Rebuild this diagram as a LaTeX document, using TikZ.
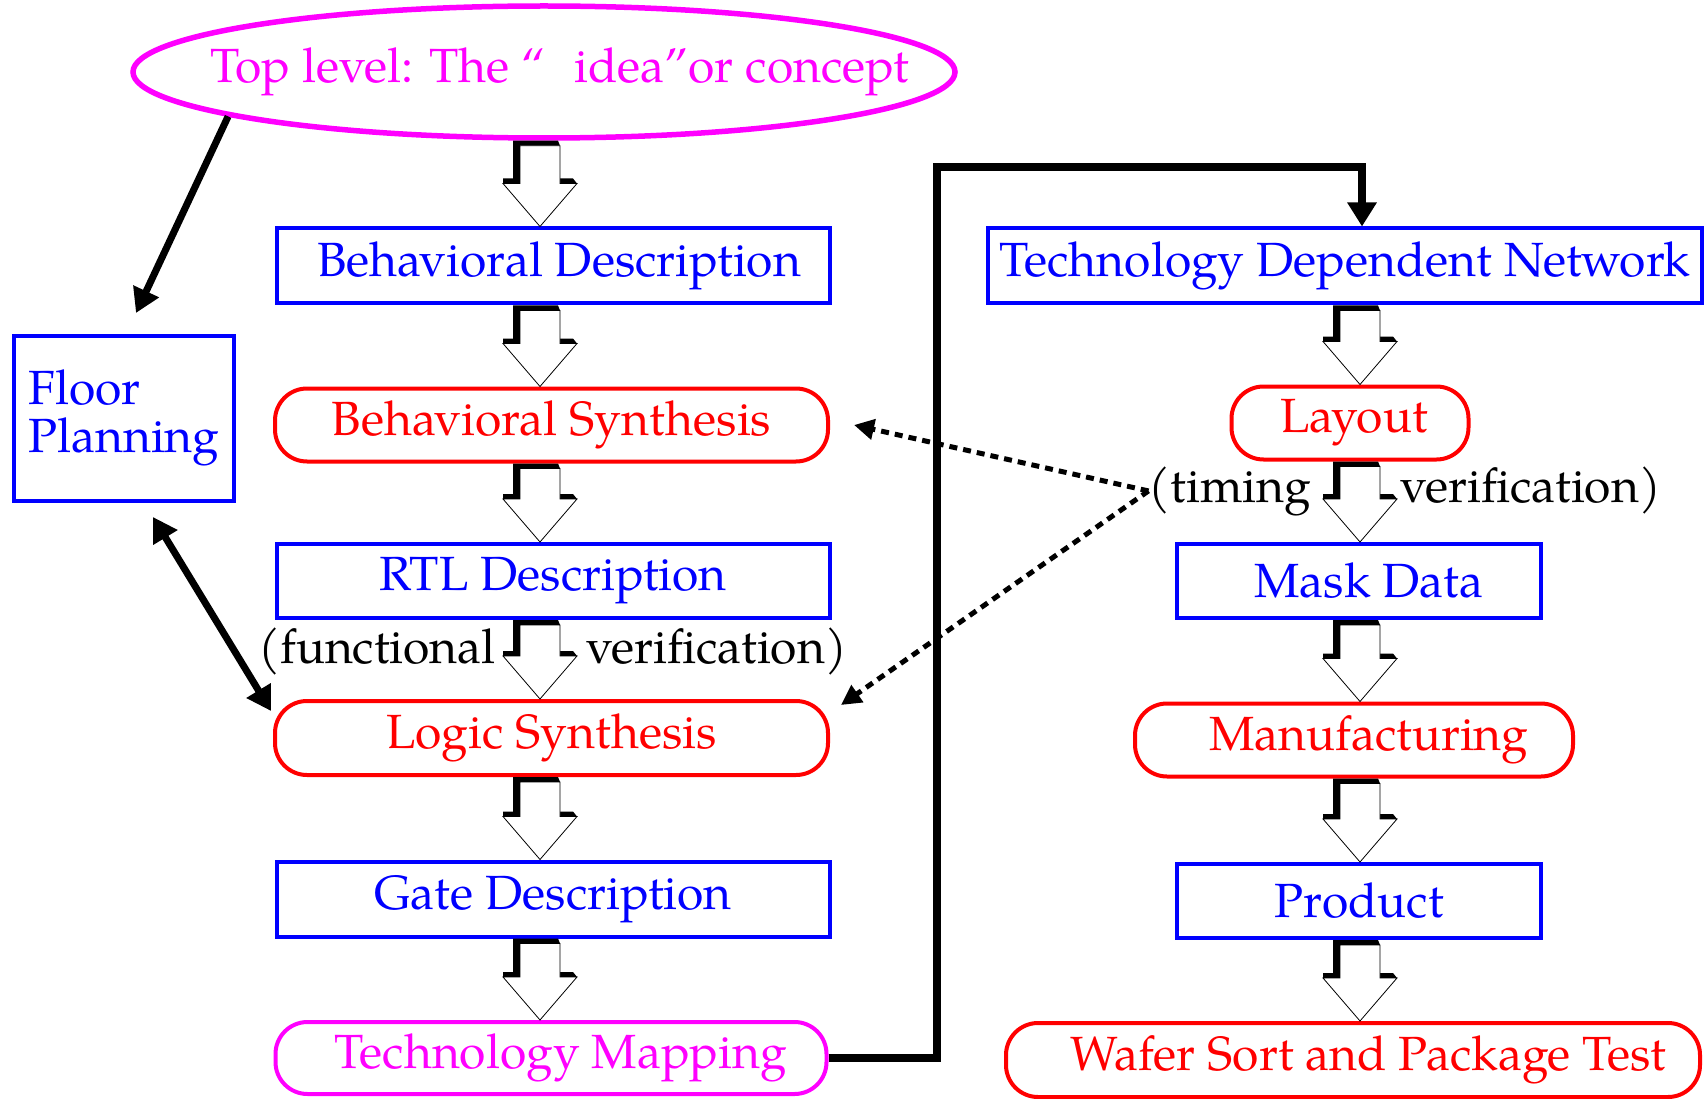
\documentclass[tikz,border=0pt]{standalone}
\usepackage{fontspec}
\setmainfont{TeX Gyre Pagella}
\usetikzlibrary{shapes.geometric,arrows.meta,calc}
\definecolor{cblue}{RGB}{0,0,255}
\definecolor{cred}{RGB}{255,0,0}
\definecolor{cmag}{RGB}{255,0,255}
\newcommand\blkarrow[3]{%
\fill[black] let \p1=(#1.south),\p2=(#2.north) in
 ({#3pt-27pt},{\y1}) -- ({#3pt+18pt},{\y1}) -- ({#3pt+20pt},{\y1-5pt}) --
 ({#3pt-20pt},{\y1-5pt}) -- ({#3pt-20pt},{\y2+43pt}) -- ({#3pt-37pt},{\y2+43pt}) --
 ({#3pt-37pt},{\y2+48pt}) -- ({#3pt-27pt},{\y2+48pt}) -- cycle
 ({#3pt+20pt},{\y2+48pt}) -- ({#3pt+33pt},{\y2+48pt}) -- ({#3pt+37pt},{\y2+43pt}) --
 ({#3pt+20pt},{\y2+43pt}) -- cycle;
\filldraw[fill=white,draw=black,line width=0.8pt] let \p1=(#1.south),\p2=(#2.north) in
 ({#3pt-20pt},{\y1-5pt}) -- ({#3pt+20pt},{\y1-5pt}) -- ({#3pt+20pt},{\y2+43pt}) --
 ({#3pt+37pt},{\y2+43pt}) -- ({#3pt},{\y2}) -- ({#3pt-37pt},{\y2+43pt}) --
 ({#3pt-20pt},{\y2+43pt}) -- cycle;}
\tikzset{
 every node/.style={font=\fontsize{48}{48}\selectfont, inner sep=0pt},
 bbox/.style={draw=cblue, line width=4pt, text=cblue},
 rbox/.style={draw=cred, line width=4pt, text=cred, rounded corners=32pt},
 mbox/.style={draw=cmag, line width=4pt, text=cmag, rounded corners=32pt},
 lbl/.style={text=black},
 thickarr/.style={line width=7pt, -{Triangle[length=24pt,width=27pt]}},
 dblarr/.style={line width=7pt, {Triangle[length=24pt,width=27pt]}-{Triangle[length=24pt,width=27pt]}},
 fatline/.style={line width=8pt, -{Triangle[length=24pt,width=28pt]}},
 dotarr/.style={line width=5pt, dash pattern=on 8pt off 6pt, -{Triangle[length=20pt,width=20pt]}}
}
\begin{document}
\begin{tikzpicture}[x=1pt,y=-1pt]
\useasboundingbox (0,0) rectangle (1705,1099);
% left column
\node[ellipse, draw=cmag, line width=5.5pt, minimum width=822pt, minimum height=132pt] (top) at (544,72) {};
\node[text=cmag] (toptxt) at (560,72) {Top level: The “\hspace{0.6em}idea”or concept};
\node[bbox, minimum width=553pt, minimum height=75pt] (bd) at (553,266) {\hspace{12pt}Behavioral Description};
\node[rbox, minimum width=553pt, minimum height=73pt] (bs) at (551.5,425) {Behavioral Synthesis};
\node[bbox, minimum width=553pt, minimum height=74pt] (rtl) at (553,581) {RTL Description\hspace{16pt}};
\node[rbox, minimum width=553pt, minimum height=74pt] (ls) at (551.5,738) {Logic Synthesis\hspace{6pt}};
\node[bbox, minimum width=553pt, minimum height=75pt] (gd) at (553,899) {Gate Description};
\node[mbox, minimum width=551pt, minimum height=72pt] (tm) at (551,1058) {\hspace{20pt}Technology Mapping};
\node[bbox, minimum width=220pt, minimum height=165pt, align=left] (fp) at (124,418) {Floor\\Planning};
% right column
\node[bbox, minimum width=714pt, minimum height=75pt] (tdn) at (1345,266) {Technology Dependent Network};
\node[rbox, minimum width=237pt, minimum height=73pt] (lay) at (1350,423) {\hspace{8pt}Layout};
\node[bbox, minimum width=364pt, minimum height=74pt] (md) at (1359,581) {\hspace{20pt}Mask Data};
\node[rbox, minimum width=438pt, minimum height=73pt] (mf) at (1354,740) {\hspace{30pt}Manufacturing};
\node[bbox, minimum width=364pt, minimum height=74pt] (pr) at (1359,901) {Product\hspace{10pt}};
\node[rbox, minimum width=694pt, minimum height=74pt] (ws) at (1353,1060) {\hspace{30pt}Wafer Sort and Package Test};
% labels
\node[lbl, anchor=base east] (fv1) at (496,663) {(functional};
\node[lbl, anchor=base west] (fv2) at (586,663) {verification)};
\node[lbl, anchor=base east] (tv1) at (1311,502) {(timing};
\node[lbl, anchor=base west] (tv2) at (1400,502) {verification)};
% block arrows
\blkarrow{top}{bd}{540}
\blkarrow{bd}{bs}{540}
\blkarrow{bs}{rtl}{540}
\blkarrow{rtl}{ls}{540}
\blkarrow{ls}{gd}{540}
\blkarrow{gd}{tm}{540}
\blkarrow{tdn}{lay}{1360}
\blkarrow{lay}{md}{1360}
\blkarrow{md}{mf}{1360}
\blkarrow{mf}{pr}{1360}
\blkarrow{pr}{ws}{1360}
% connectors
\coordinate (fpin) at (136,313);
\coordinate (fpout) at (153,517);
\coordinate (lsin) at (271,711);
\coordinate (bsin) at (854,425);
\coordinate (lsin2) at (841,705);
\draw[thickarr] (top.188.5) -- (fpin);
\draw[dblarr] (fpout) -- (lsin);
\draw[fatline] (tm.east) -| (937,167) -| ([xshift=17pt]tdn.north);
\draw[dotarr] (tv1.west) -- (bsin);
\draw[dotarr] (tv1.west) -- (lsin2);
\end{tikzpicture}
\end{document}
